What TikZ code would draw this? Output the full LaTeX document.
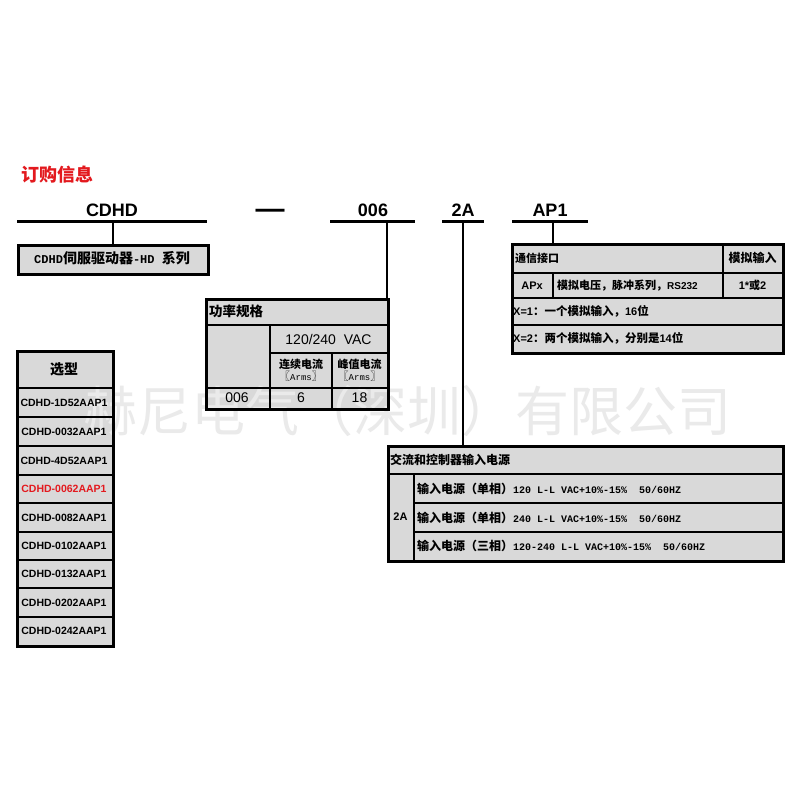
\documentclass[tikz,border=0pt]{standalone}
\usepackage{fontspec}
\setmainfont{Liberation Sans}
\setmonofont{Liberation Mono}
\newfontfamily\cjk{Noto Sans CJK SC}
\newfontfamily\arial{Liberation Sans}
\newcommand{\myfs}[1]{\fontsize{#1}{#1}\selectfont}
\definecolor{cellgray}{HTML}{D9D9D9}
\definecolor{titlered}{HTML}{E3191E}
\definecolor{wmgray}{HTML}{EAEAEA}
\tikzset{
  cellfill/.style={fill=cellgray},
  inner/.style={draw=black, line width=1.3pt},
  frame/.style={draw=black, line width=2.6pt, inner sep=0pt, anchor=north west},
  code/.style={font=\arial\bfseries\myfs{18}, inner sep=0pt},
  uline/.style={line width=3pt},
  conn/.style={line width=2.4pt},
  txt/.style={inner sep=0pt},
  ltxt/.style={inner sep=0pt, anchor=west},
  model/.style={inner sep=0pt, font=\arial\bfseries\myfs{10.5}},
}
\begin{document}
\begin{tikzpicture}[x=1pt,y=-1pt]
\useasboundingbox[fill=white] (0,0) rectangle (800,800);

% cell fills
\fill[cellfill] (17,244) rectangle (207,273);
\fill[cellfill] (16,350) rectangle (112,645);
\fill[cellfill] (205,298) rectangle (387,408);
\fill[cellfill] (511,243) rectangle (782,352);
\fill[cellfill] (387,445) rectangle (782,560);

% watermark (under lines and texts, over the fills)
\node[txt, text=wmgray, font=\cjk\myfs{54}] (wm) at (407,411) {赫尼电气（深圳）有限公司};

% title
\node[ltxt, text=titlered, font=\cjk\bfseries\myfs{18}] (title) at (21,175) {订购信息};

% codes and underlines
\node[code] (tCDHD) at (112,210) {CDHD};
\coordinate (uCDHDl) at (17,221); \coordinate (uCDHDr) at (207,221);
\draw[uline] (uCDHDl) -- (uCDHDr);
\node[inner sep=0pt, font=\arial\bfseries\myfs{29}] (tdash) at (270,214) {—};
\node[code] (t006) at (373,210) {006};
\coordinate (u006l) at (330,221); \coordinate (u006r) at (415,221);
\draw[uline] (u006l) -- (u006r);
\node[code] (t2A) at (463,210) {2A};
\coordinate (u2Al) at (442,221); \coordinate (u2Ar) at (484,221);
\draw[uline] (u2Al) -- (u2Ar);
\node[code] (tAP1) at (550,210) {AP1};
\coordinate (uAPl) at (512,221); \coordinate (uAPr) at (588,221);
\draw[uline] (uAPl) -- (uAPr);
\coordinate (jCDHD) at (113,221);
\coordinate (j006) at (387,221);
\coordinate (j2A) at (463,221);
\coordinate (jAP) at (553,221);

% CDHD box
\node[frame, minimum width=190pt, minimum height=29pt] (cdhdbox) at (17,244) {};
\node[txt] (cdhdtxt) at (112,258.5) {{\ttfamily\bfseries\myfs{12}CDHD}{\cjk\bfseries\myfs{14}伺服驱动器}{\ttfamily\bfseries\myfs{12}-HD }{\cjk\bfseries\myfs{14}系列}};

% selection table
\foreach \yy in {388,417,446,475,503,532,560,588,617} \draw[inner] (16,\yy) -- (112,\yy);
\node[frame, minimum width=96pt, minimum height=295pt] (sel) at (16,350) {};
\node[txt, font=\cjk\bfseries\myfs{14}] (selh) at (64,369) {选型};
\node[model] (m1) at (64,402.5) {CDHD-1D52AAP1};
\node[model] (m2) at (64,431.5) {CDHD-0032AAP1};
\node[model] (m3) at (64,460.5) {CDHD-4D52AAP1};
\node[model, text=titlered] (m4) at (64,489) {CDHD-0062AAP1};
\node[model] (m5) at (64,517.5) {CDHD-0082AAP1};
\node[model] (m6) at (64,546) {CDHD-0102AAP1};
\node[model] (m7) at (64,574) {CDHD-0132AAP1};
\node[model] (m8) at (64,602.5) {CDHD-0202AAP1};
\node[model] (m9) at (64,631) {CDHD-0242AAP1};

% power table
\draw[inner] (205,325) -- (387,325);
\draw[inner] (270,325) -- (270,408);
\draw[inner] (270,353) -- (387,353);
\draw[inner] (205,388) -- (387,388);
\draw[inner] (332,353) -- (332,408);
\node[frame, minimum width=182pt, minimum height=110pt] (pwr) at (205,298) {};
\node[ltxt, font=\cjk\bfseries\myfs{13.5}] (pwrh) at (209,311.5) {功率规格};
\node[txt, font=\arial\myfs{14}] (vac) at (328.5,339) {120/240~~VAC};
\node[txt, font=\cjk\bfseries\myfs{11}, align=center] (cont) at (301,370.5) {连续电流\\[1pt]{\mdseries\myfs{11}〖{\ttfamily\myfs{9}Arms}〗}};
\node[txt, font=\cjk\bfseries\myfs{11}, align=center] (peak) at (359.5,370.5) {峰值电流\\[1pt]{\mdseries\myfs{11}〖{\ttfamily\myfs{9}Arms}〗}};
\node[txt, font=\arial\myfs{14}] (v006) at (237,398) {006};
\node[txt, font=\arial\myfs{14}] (v6) at (301,398) {6};
\node[txt, font=\arial\myfs{14}] (v18) at (359.5,398) {18};

% AP1 table
\draw[inner] (511,273) -- (782,273);
\draw[inner] (511,298) -- (782,298);
\draw[inner] (511,325) -- (782,325);
\draw[inner] (723,243) -- (723,298);
\draw[inner] (553,273) -- (553,298);
\node[frame, minimum width=271pt, minimum height=109pt] (apbox) at (511,243) {};
\node[ltxt, font=\cjk\bfseries\myfs{11}] (aph1) at (515,258) {通信接口};
\node[txt, font=\cjk\bfseries\myfs{12}] (aph2) at (752.5,258) {模拟输入};
\node[txt, font=\arial\bfseries\myfs{11}] (apx) at (532,285.5) {APx};
\node[ltxt] (apdesc) at (557,285.5) {{\cjk\bfseries\myfs{11}模拟电压，脉冲系列，}{\arial\bfseries\myfs{10}RS232}};
\node[txt] (apn) at (752.5,285.5) {{\arial\bfseries\myfs{11}1*}{\cjk\bfseries\myfs{11}或}{\arial\bfseries\myfs{11}2}};
\node[ltxt] (apx1) at (513,311.5) {{\arial\bfseries\myfs{11}X=1}{\cjk\bfseries\myfs{11.5}：一个模拟输入，}{\arial\bfseries\myfs{11}16}{\cjk\bfseries\myfs{11.5}位}};
\node[ltxt] (apx2) at (513,338.5) {{\arial\bfseries\myfs{11}X=2}{\cjk\bfseries\myfs{11.5}：两个模拟输入，分别是}{\arial\bfseries\myfs{11}14}{\cjk\bfseries\myfs{11.5}位}};

% 2A table
\draw[inner] (387,474) -- (782,474);
\draw[inner] (414,503) -- (782,503);
\draw[inner] (414,532) -- (782,532);
\draw[inner] (414,474) -- (414,560);
\node[frame, minimum width=395pt, minimum height=115pt] (acbox) at (387,445) {};
\node[ltxt, font=\cjk\bfseries\myfs{12}] (ach) at (390,459.5) {交流和控制器输入电源};
\node[txt, font=\arial\bfseries\myfs{11}] (ac2A) at (400.5,517) {2A};
\node[ltxt] (ac1) at (417,488.5) {{\cjk\bfseries\myfs{12}输入电源（单相）}{\ttfamily\bfseries\myfs{10}120 L-L VAC+10\%-15\%~~50/60HZ}};
\node[ltxt] (ac2) at (417,517.5) {{\cjk\bfseries\myfs{12}输入电源（单相）}{\ttfamily\bfseries\myfs{10}240 L-L VAC+10\%-15\%~~50/60HZ}};
\node[ltxt] (ac3) at (417,546) {{\cjk\bfseries\myfs{12}输入电源（三相）}{\ttfamily\bfseries\myfs{10}120-240 L-L VAC+10\%-15\%~~50/60HZ}};

% connectors
\draw[conn] (jCDHD) -- (jCDHD |- cdhdbox.north);
\draw[conn] (j006) -- (j006 |- pwr.north);
\draw[conn] (j2A) -- (j2A |- acbox.north);
\draw[conn] (jAP) -- (jAP |- apbox.north);
\end{tikzpicture}
\end{document}
